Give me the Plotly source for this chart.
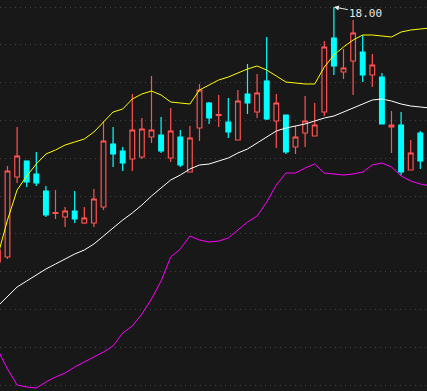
import plotly.graph_objects as go

# candle index (first one is partly outside the left edge)
idx = list(range(-1, 44))

opens = [15.45, 15.50, 16.30, 16.46, 16.33, 16.16, 15.935, 15.90, 15.96, 15.84, 15.84,
         16.00, 16.63, 16.56, 16.48, 16.50, 16.70, 16.72, 16.49, 16.70, 16.35,
         16.79, 17.04, 16.915, 16.85, 16.67, 17.13, 16.95, 17.26, 16.86, 16.92,
         16.60, 16.74, 16.71, 16.95, 17.69, 17.35, 17.46, 17.55, 17.32, 17.30,
         16.80, 16.82, 16.37, 16.74]
highs = [15.60, 16.41, 16.80, 16.46, 16.55, 16.21, 16.17, 16.00, 16.16, 16.00, 16.18,
         16.86, 16.80, 16.60, 17.13, 16.89, 17.31, 16.90, 16.99, 16.77, 16.81,
         17.23, 17.05, 17.12, 17.09, 17.17, 17.43, 17.33, 17.70, 17.13, 16.92,
         16.81, 17.11, 17.04, 17.66, 18.00, 17.58, 17.87, 17.72, 17.53, 17.34,
         16.96, 16.95, 16.67, 16.76]
lows = [15.42, 15.48, 16.24, 16.20, 16.21, 15.90, 15.88, 15.80, 15.84, 15.83, 15.80,
        15.97, 16.40, 16.36, 16.36, 16.48, 16.64, 16.54, 16.45, 16.40, 16.35,
        16.66, 16.83, 16.80, 16.69, 16.67, 16.93, 16.89, 16.87, 16.59, 16.53,
        16.53, 16.60, 16.71, 16.91, 17.32, 17.28, 17.12, 17.25, 17.20, 16.83,
        16.54, 16.32, 16.37, 16.38]
closes = [15.57, 16.36, 16.51, 16.25, 16.24, 15.92, 15.945, 15.96, 15.88, 15.89, 16.08,
          16.66, 16.53, 16.44, 16.77, 16.78, 16.77, 16.56, 16.76, 16.42, 16.69,
          17.17, 16.89, 16.925, 16.75, 17.06, 17.04, 17.14, 16.88, 17.04, 16.55,
          16.70, 16.86, 16.82, 17.60, 17.41, 17.39, 17.74, 17.32, 17.42, 16.83,
          16.82, 16.35, 16.54, 16.46]

# Bollinger bands, one value per index from -1 to 44
band_idx = list(range(-1, 45))
upper = [15.52, 15.87, 16.17, 16.31, 16.43, 16.53, 16.57, 16.62, 16.65, 16.68, 16.75,
         16.85, 16.95, 16.98, 17.08, 17.13, 17.16, 17.12, 17.05, 17.04, 17.03,
         17.17, 17.22, 17.27, 17.30, 17.34, 17.38, 17.41, 17.37, 17.31, 17.25,
         17.24, 17.23, 17.23, 17.40, 17.52, 17.60, 17.67, 17.72, 17.72, 17.71,
         17.70, 17.75, 17.77, 17.78, 17.79]
middle = [15.01, 15.11, 15.20, 15.26, 15.32, 15.38, 15.43, 15.48, 15.53, 15.57, 15.63,
          15.71, 15.79, 15.87, 15.94, 16.02, 16.11, 16.19, 16.27, 16.32, 16.38,
          16.42, 16.43, 16.46, 16.49, 16.54, 16.58, 16.64, 16.70, 16.76, 16.79,
          16.81, 16.83, 16.86, 16.89, 16.91, 16.95, 16.99, 17.03, 17.07, 17.08,
          17.06, 17.03, 17.01, 17.00, 16.99]
lower = [14.57, 14.38, 14.22, 14.20, 14.19, 14.25, 14.30, 14.34, 14.40, 14.45, 14.50,
         14.55, 14.61, 14.74, 14.81, 14.93, 15.08, 15.26, 15.50, 15.58, 15.71,
         15.67, 15.65, 15.66, 15.69, 15.77, 15.85, 15.91, 16.05, 16.22, 16.34,
         16.34, 16.39, 16.43, 16.34, 16.33, 16.32, 16.33, 16.35, 16.42, 16.44,
         16.40, 16.31, 16.26, 16.23, 16.21]

peak_idx = 34
peak_label = "18.00"

BG = "#181818"
RED = "#ff5252"
CYAN = "#00ffff"

fig = go.Figure()
fig.add_trace(go.Scatter(x=band_idx, y=upper, mode="lines",
                         line=dict(color="#ffff00", width=1), hoverinfo="skip"))
fig.add_trace(go.Scatter(x=band_idx, y=middle, mode="lines",
                         line=dict(color="#ffffff", width=1), hoverinfo="skip"))
fig.add_trace(go.Scatter(x=band_idx, y=lower, mode="lines",
                         line=dict(color="#ff00ff", width=1), hoverinfo="skip"))
fig.add_trace(go.Candlestick(
    x=idx, open=opens, high=highs, low=lows, close=closes,
    increasing=dict(line=dict(color=RED, width=1.2), fillcolor=BG),
    decreasing=dict(line=dict(color=CYAN, width=1.2), fillcolor=CYAN),
    whiskerwidth=0,
))

fig.add_annotation(x=peak_idx, y=max(highs), text=peak_label, showarrow=True,
                   arrowhead=2, arrowsize=1, arrowwidth=1, arrowcolor="#e8e8e8",
                   ax=32, ay=6, font=dict(family="DejaVu Sans Mono", size=11, color="#e8e8e8"))

fig.update_layout(
    width=427, height=391,
    margin=dict(l=0, r=0, t=0, b=0),
    paper_bgcolor=BG, plot_bgcolor=BG,
    showlegend=False,
    xaxis=dict(range=[-0.781, 43.698], showgrid=False, zeroline=False,
               showticklabels=False, rangeslider=dict(visible=False), fixedrange=True),
    yaxis=dict(range=[14.16, 18.07], tick0=18.0, dtick=0.378, showgrid=True,
               gridcolor="#454545", griddash="1px,4px", gridwidth=1,
               zeroline=False, showticklabels=False, fixedrange=True),
)

fig.write_html("out.html")
